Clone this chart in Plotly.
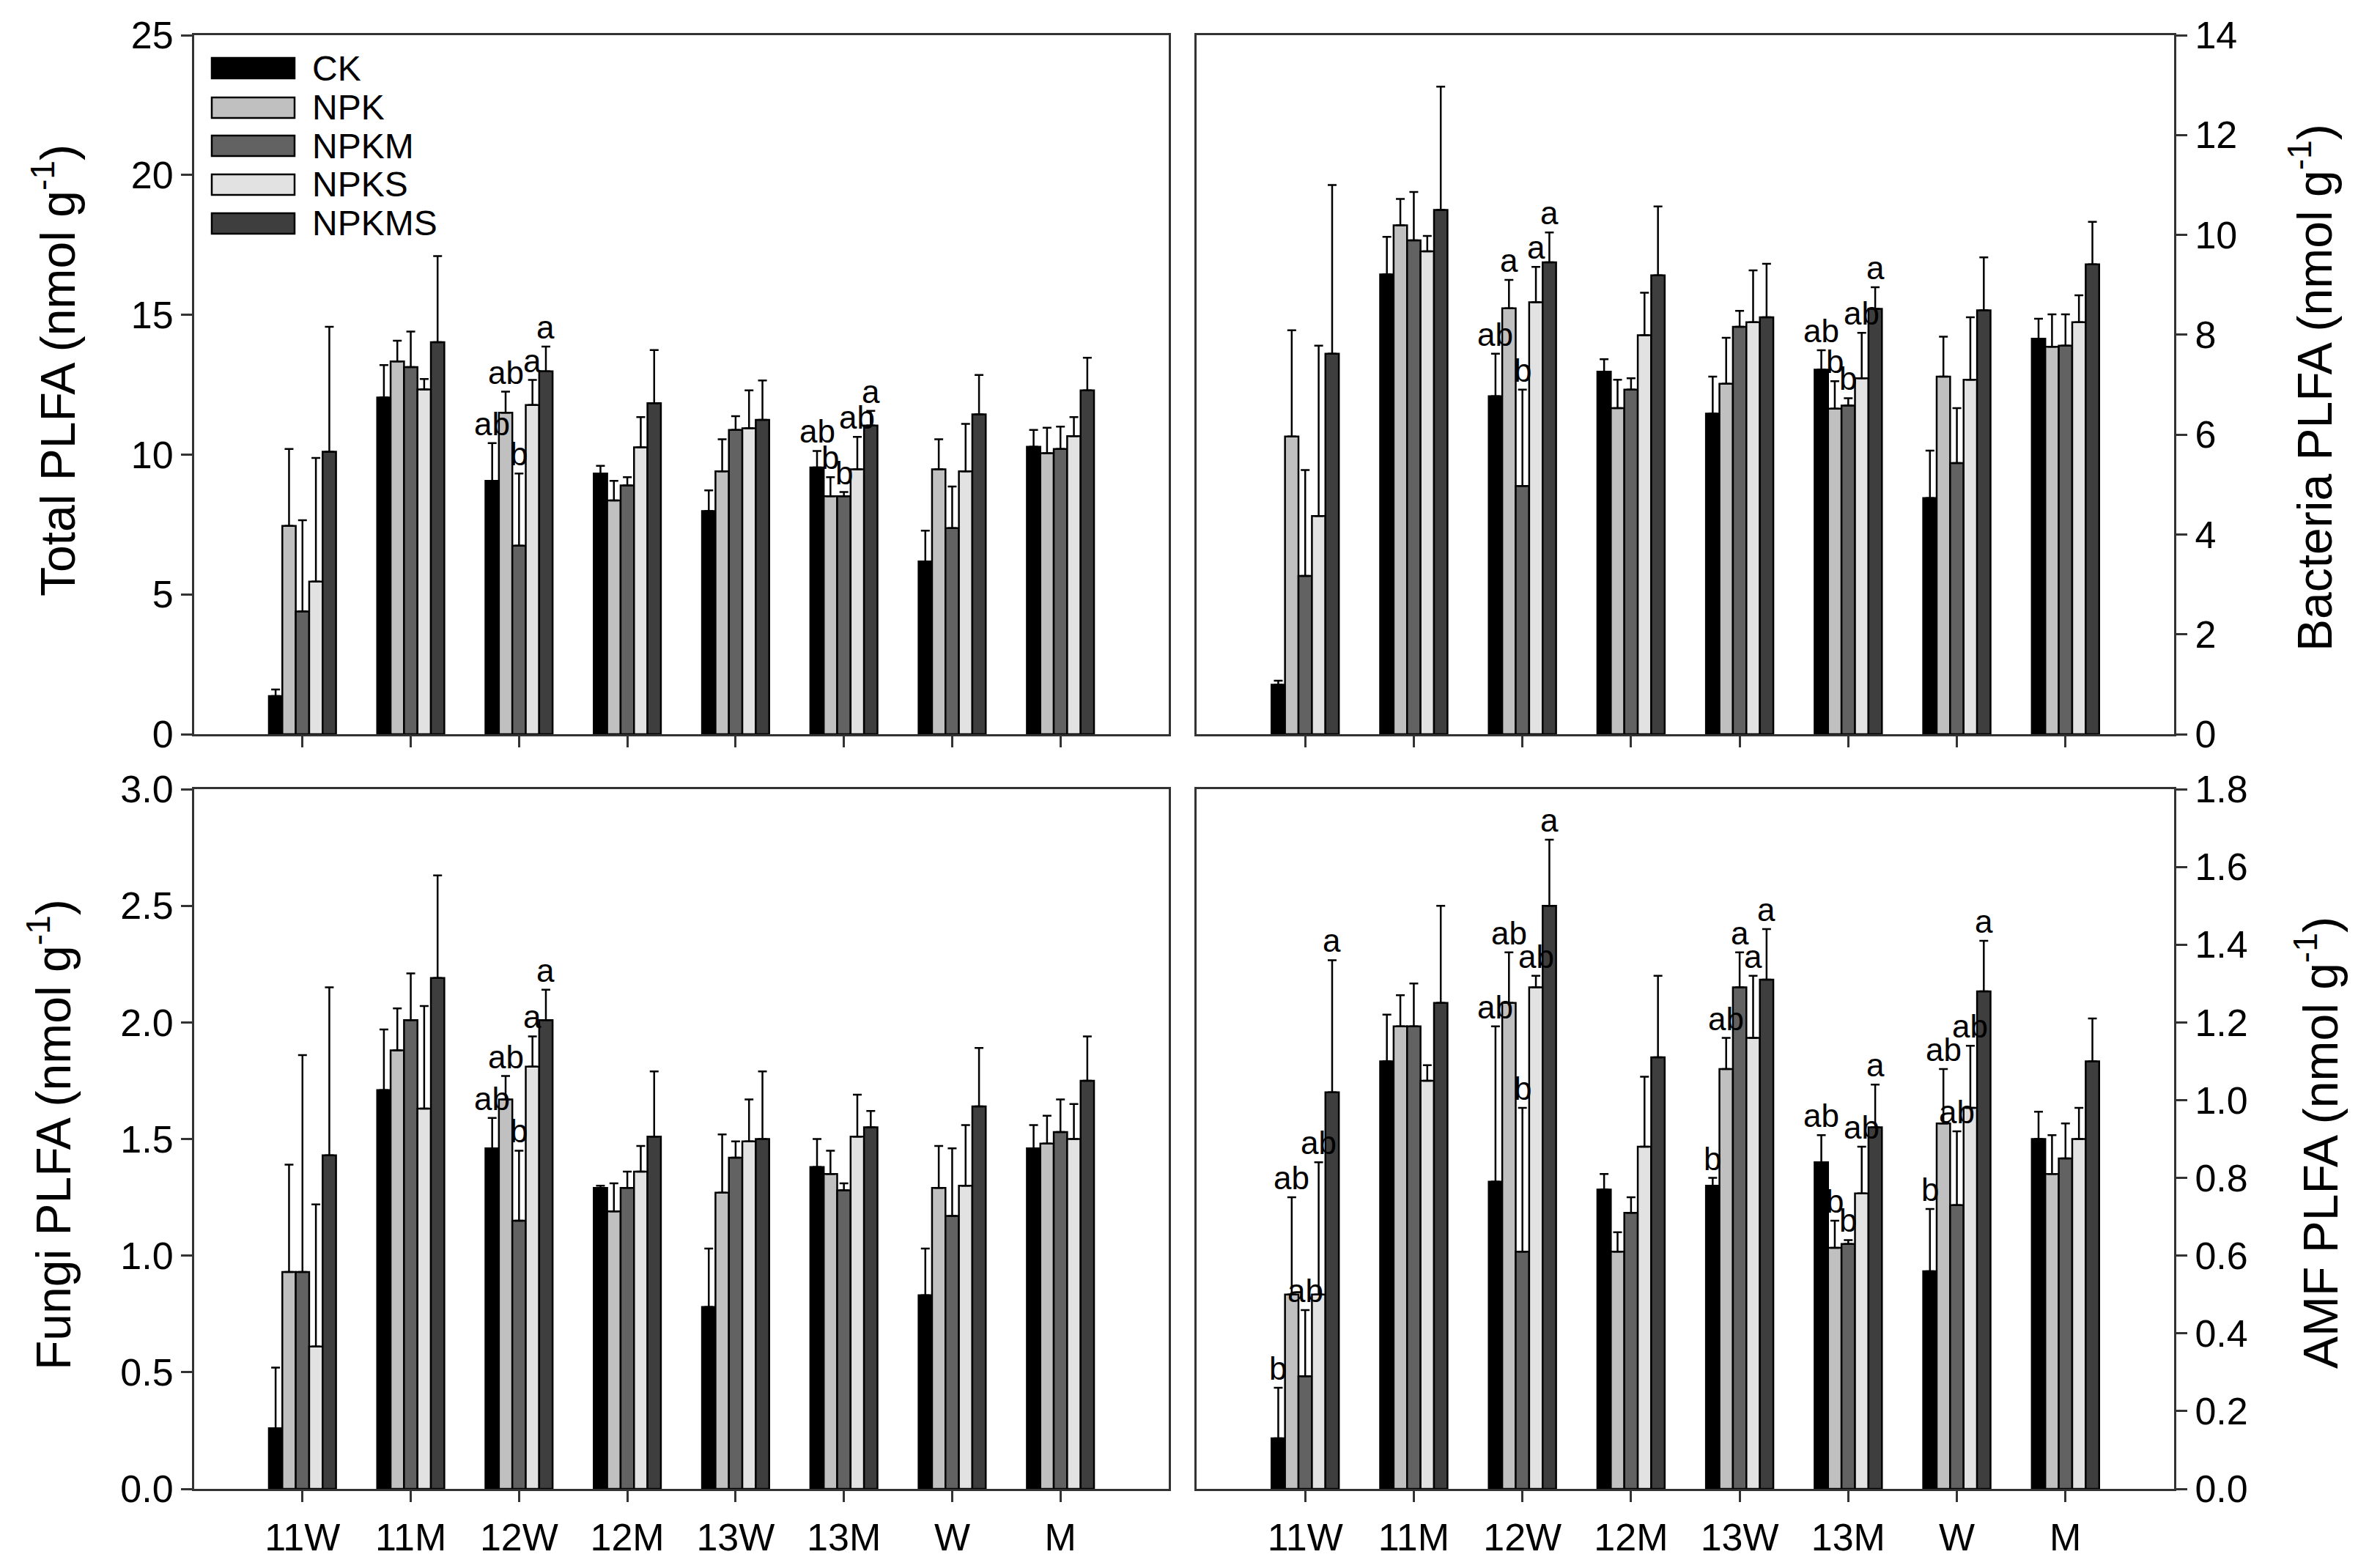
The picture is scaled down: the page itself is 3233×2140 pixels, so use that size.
import plotly.graph_objects as go

PAGE_W, PAGE_H = 3233, 2140
PAD = 8  # default body margin of the html page
W, H = PAGE_W - 2 * PAD, PAGE_H - 2 * PAD

categories = ["11W", "11M", "12W", "12M", "13W", "13M", "W", "M"]
treatments = ["CK", "NPK", "NPKM", "NPKS", "NPKMS"]
colors = ["#000000", "#c0c0c0", "#626262", "#e2e2e2", "#3e3e3e"]

# ---- Total PLFA (nmol g-1) ----
total_mean = [
    [1.36, 12.04, 9.06, 9.32, 7.98, 9.54, 6.18, 10.28],   # CK
    [7.45, 13.33, 11.50, 8.36, 9.40, 8.51, 9.47, 10.05],  # NPK
    [4.39, 13.13, 6.74, 8.90, 10.88, 8.51, 7.37, 10.20],  # NPKM
    [5.46, 12.33, 11.77, 10.26, 10.94, 9.47, 9.40, 10.66],  # NPKS
    [10.10, 14.02, 12.98, 11.84, 11.24, 11.04, 11.44, 12.30],  # NPKMS
]
total_se = [
    [0.24, 1.16, 1.35, 0.28, 0.74, 0.59, 1.10, 0.60],
    [2.75, 0.74, 0.75, 0.70, 1.15, 0.68, 1.08, 0.91],
    [3.26, 1.27, 2.58, 0.29, 0.49, 0.15, 1.49, 0.80],
    [4.42, 0.37, 0.90, 1.08, 1.36, 1.16, 1.70, 0.68],
    [4.47, 3.08, 0.88, 1.90, 1.41, 0.52, 1.41, 1.16],
]
total_letters = {
    "12W": ["ab", "ab", "b", "a", "a"],
    "13M": ["ab", "b", "b", "ab", "a"],
}

# ---- Bacteria PLFA (nmol g-1) ----
bact_mean = [
    [0.99, 9.21, 6.77, 7.26, 6.42, 7.30, 4.73, 7.92],
    [5.96, 10.19, 8.53, 6.53, 7.02, 6.52, 7.16, 7.76],
    [3.17, 9.89, 4.97, 6.90, 8.16, 6.58, 5.43, 7.78],
    [4.37, 9.67, 8.65, 7.99, 8.25, 7.13, 7.10, 8.25],
    [7.62, 10.50, 9.45, 9.19, 8.35, 8.52, 8.49, 9.41],
]
bact_se = [
    [0.08, 0.75, 0.85, 0.25, 0.74, 0.39, 0.95, 0.40],
    [2.13, 0.53, 0.57, 0.57, 0.92, 0.55, 0.80, 0.65],
    [2.12, 0.97, 1.93, 0.23, 0.32, 0.15, 1.10, 0.63],
    [3.41, 0.31, 0.71, 0.85, 1.04, 0.91, 1.25, 0.54],
    [3.38, 2.47, 0.60, 1.38, 1.07, 0.43, 1.06, 0.85],
]
bact_letters = {
    "12W": ["ab", "a", "b", "a", "a"],
    "13M": ["ab", "b", "b", "ab", "a"],
}

# ---- Fungi PLFA (nmol g-1) ----
fungi_mean = [
    [0.26, 1.71, 1.46, 1.29, 0.78, 1.38, 0.83, 1.46],
    [0.93, 1.88, 1.67, 1.19, 1.27, 1.35, 1.29, 1.48],
    [0.93, 2.01, 1.15, 1.29, 1.42, 1.28, 1.17, 1.53],
    [0.61, 1.63, 1.81, 1.36, 1.49, 1.51, 1.30, 1.50],
    [1.43, 2.19, 2.01, 1.51, 1.50, 1.55, 1.64, 1.75],
]
fungi_se = [
    [0.26, 0.26, 0.13, 0.01, 0.25, 0.12, 0.20, 0.10],
    [0.46, 0.18, 0.10, 0.12, 0.25, 0.10, 0.18, 0.12],
    [0.93, 0.20, 0.30, 0.07, 0.07, 0.03, 0.29, 0.14],
    [0.61, 0.44, 0.13, 0.11, 0.18, 0.18, 0.26, 0.15],
    [0.72, 0.44, 0.13, 0.28, 0.29, 0.07, 0.25, 0.19],
]
fungi_letters = {
    "12W": ["ab", "ab", "b", "a", "a"],
}

# ---- AMF PLFA (nmol g-1) ----
amf_mean = [
    [0.13, 1.10, 0.79, 0.77, 0.78, 0.84, 0.56, 0.90],
    [0.50, 1.19, 1.25, 0.61, 1.08, 0.62, 0.94, 0.81],
    [0.29, 1.19, 0.61, 0.71, 1.29, 0.63, 0.73, 0.85],
    [0.50, 1.05, 1.29, 0.88, 1.16, 0.76, 0.98, 0.90],
    [1.02, 1.25, 1.50, 1.11, 1.31, 0.93, 1.28, 1.10],
]
amf_se = [
    [0.13, 0.12, 0.40, 0.04, 0.02, 0.07, 0.16, 0.07],
    [0.25, 0.08, 0.13, 0.05, 0.08, 0.07, 0.14, 0.10],
    [0.17, 0.11, 0.37, 0.04, 0.09, 0.01, 0.19, 0.09],
    [0.34, 0.04, 0.03, 0.18, 0.16, 0.12, 0.16, 0.08],
    [0.34, 0.25, 0.17, 0.21, 0.13, 0.11, 0.13, 0.11],
]
amf_letters = {
    "11W": ["b", "ab", "ab", "ab", "a"],
    "12W": ["ab", "ab", "b", "ab", "a"],
    "13W": ["b", "ab", "a", "a", "a"],
    "13M": ["ab", "b", "b", "ab", "a"],
    "W": ["b", "ab", "ab", "ab", "a"],
}

total_ticks = [0, 5, 10, 15, 20, 25]
bact_ticks = [0, 2, 4, 6, 8, 10, 12, 14]
fungi_ticks = [0.0, 0.5, 1.0, 1.5, 2.0, 2.5, 3.0]
amf_ticks = [0.0, 0.2, 0.4, 0.6, 0.8, 1.0, 1.2, 1.4, 1.6, 1.8]

# ---------------- layout geometry (page pixels) ----------------
FONT = "Liberation Sans, Arial, sans-serif"
LINE = "#333333"
BARGAP = 0.38
left_x = (265, 1595)
right_x = (1633, 2967)
top_y = (48, 1002)
bot_y = (1077, 2032)


def px(x):
    return (x - PAD) / W


def py(y):
    return 1 - (y - PAD) / H


def xdom(p):
    return [px(p[0]), px(p[1])]


def ydom(p):
    return [py(p[1]), py(p[0])]


panels = [
    dict(mean=total_mean, se=total_se, letters=total_letters, ticks=total_ticks,
         fmt="d", xd=left_x, yd=top_y, side="left", xlabels=False,
         title="Total PLFA (nmol g<sup>-1</sup>)", tx=74, ty=506),
    dict(mean=bact_mean, se=bact_se, letters=bact_letters, ticks=bact_ticks,
         fmt="d", xd=right_x, yd=top_y, side="right", xlabels=False,
         title="Bacteria PLFA (nmol g<sup>-1</sup>)", tx=3154, ty=529),
    dict(mean=fungi_mean, se=fungi_se, letters=fungi_letters, ticks=fungi_ticks,
         fmt=".1f", xd=left_x, yd=bot_y, side="left", xlabels=True,
         title="Fungi PLFA (nmol g<sup>-1</sup>)", tx=68, ty=1549),
    dict(mean=amf_mean, se=amf_se, letters=amf_letters, ticks=amf_ticks,
         fmt=".1f", xd=right_x, yd=bot_y, side="right", xlabels=True,
         title="AMF PLFA (nmol g<sup>-1</sup>)", tx=3162, ty=1560),
]

fig = go.Figure()
xpos = list(range(len(categories)))
bw = (1 - BARGAP) / len(treatments)
annotations = []
layout = {}

for k, p in enumerate(panels):
    s = "" if k == 0 else str(k + 1)
    for i, t in enumerate(treatments):
        fig.add_trace(go.Bar(
            x=xpos, y=p["mean"][i], name=t,
            xaxis="x" + s, yaxis="y" + s, showlegend=False,
            marker=dict(color=colors[i], line=dict(color="#000000", width=2.5)),
            error_y=dict(type="data", array=p["se"][i],
                         arrayminus=[0] * len(categories), symmetric=False,
                         color="#000000", thickness=2.5, width=6),
        ))
    layout["xaxis" + s] = dict(
        domain=xdom(p["xd"]), anchor="y" + s, range=[-1, 8], automargin=False,
        tickmode="array", tickvals=xpos, ticktext=categories,
        showticklabels=p["xlabels"], ticks="outside", ticklen=15, tickwidth=3,
        tickcolor=LINE, showline=True, linewidth=3, linecolor=LINE, mirror=True,
        showgrid=False, zeroline=False, ticklabelstandoff=4,
        tickfont=dict(family=FONT, size=52, color="#000000"),
    )
    rng = [p["ticks"][0], p["ticks"][-1]]
    layout["yaxis" + s] = dict(
        domain=ydom(p["yd"]), anchor="x" + s, range=rng, side=p["side"],
        automargin=False,
        tickmode="array", tickvals=p["ticks"],
        ticktext=[format(v, p["fmt"]) if p["fmt"] != "d" else str(int(v)) for v in p["ticks"]],
        ticks="outside", ticklen=15, tickwidth=3, tickcolor=LINE,
        showline=True, linewidth=3, linecolor=LINE, mirror=True,
        showgrid=False, zeroline=False,
        tickfont=dict(family=FONT, size=52, color="#000000"),
    )
    # axis title
    annotations.append(dict(
        text=p["title"], xref="paper", yref="paper",
        x=px(p["tx"]), y=py(p["ty"]), xanchor="center", yanchor="middle",
        textangle=-90, showarrow=False,
        font=dict(family=FONT, size=66, color="#000000"),
    ))
    # significance letters
    for cat, labs in p["letters"].items():
        c = categories.index(cat)
        for i, lab in enumerate(labs):
            annotations.append(dict(
                text=lab, xref="x" + s, yref="y" + s,
                x=c + (i - (len(treatments) - 1) / 2) * bw,
                y=p["mean"][i][c] + p["se"][i][c],
                xanchor="center", yanchor="bottom", showarrow=False,
                font=dict(family=FONT, size=44, color="#000000"),
            ))

# manual legend (wide rectangular swatches) in the top-left panel
shapes = []
leg_y = [93, 147, 199, 252, 305]
for i, t in enumerate(treatments):
    cy = leg_y[i]
    shapes.append(dict(
        type="rect", xref="paper", yref="paper",
        x0=px(289), x1=px(402), y0=py(cy + 14), y1=py(cy - 14),
        fillcolor=colors[i], line=dict(color="#000000", width=2.5),
    ))
    annotations.append(dict(
        text=t, xref="paper", yref="paper", x=px(424), y=py(cy),
        xanchor="left", yanchor="middle", showarrow=False,
        font=dict(family=FONT, size=48, color="#000000"),
    ))

fig.update_layout(
    width=W, height=H, margin=dict(l=0, r=0, t=0, b=0, autoexpand=False),
    paper_bgcolor="#ffffff", plot_bgcolor="#ffffff",
    barmode="group", bargap=BARGAP, bargroupgap=0,
    showlegend=False, annotations=annotations, shapes=shapes,
    font=dict(family=FONT, color="#000000"),
    **layout,
)

fig.write_html("out.html")
